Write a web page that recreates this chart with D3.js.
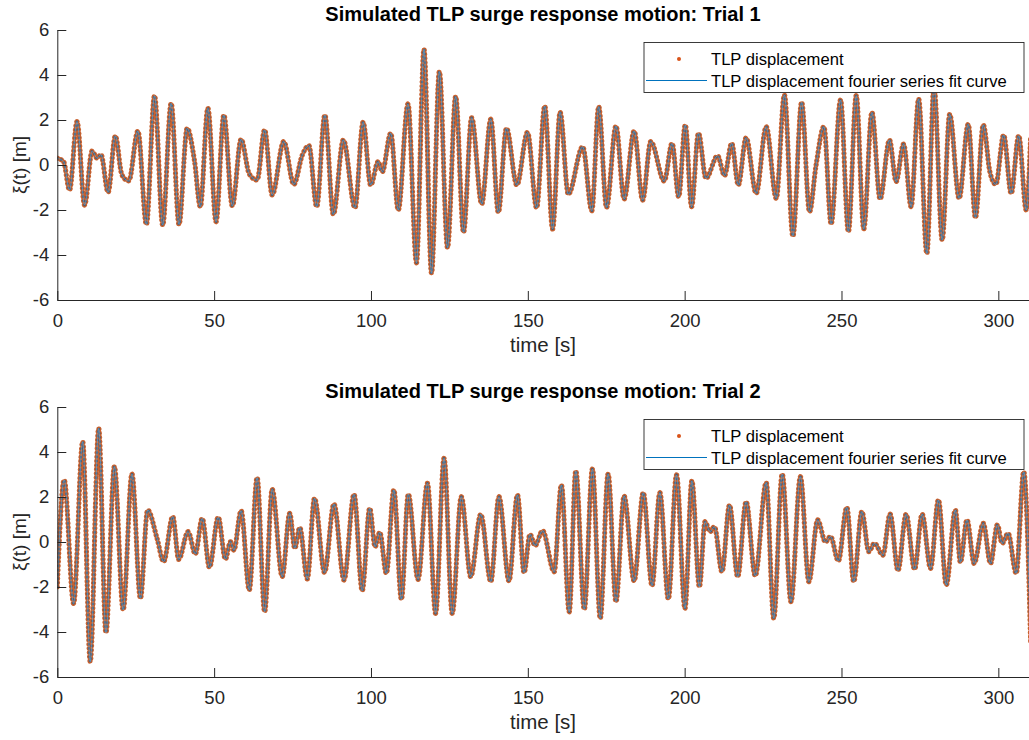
<!DOCTYPE html>
<html><head><meta charset="utf-8">
<script src="https://cdn.jsdelivr.net/npm/d3@7/dist/d3.min.js"></script>
<style>
html,body{margin:0;padding:0;background:#fff;}
svg{display:block;font-family:"Liberation Sans",Arial,Helvetica,sans-serif;}
</style></head>
<body>
<svg id="chart" width="1029" height="740"></svg>
<script>
// ---- data (local peaks / troughs of each record) ----
const trial1Time = [0,2.0,3.9,6.3,8.7,11.1,12.7,13.9,16.2,18.5,20.6,22.8,25.7,28.4,31.0,33.6,36.3,38.8,41.4,43.7,45.6,48.0,50.6,53.1,55.8,58.6,61.2,63.7,66.1,68.5,72.2,75.4,78.1,80.2,82.7,85.3,88.0,91.2,94.9,97.5,99.9,102.3,103.6,106.3,108.7,111.8,114.5,116.9,119.3,121.8,124.4,127.0,129.5,132.1,135.3,138.2,140.6,143.2,146.5,149.9,152.8,155.4,157.9,160.3,162.9,167.5,170.4,172.6,175.1,178.1,180.7,183.9,186.6,189.2,193.5,196.0,198.1,200.2,202.2,204.4,206.8,210.5,212.7,215.0,217.1,219.6,222.8,226.0,229.2,231.8,234.5,237.3,239.8,241.9,244.4,246.7,249.7,252.2,254.7,257.1,259.7,262.3,265.3,267.4,269.8,272.2,274.6,277.2,279.5,282.1,284.5,287.5,290.4,292.7,295.2,297.3,299.2,301.7,304.1,306.5,308.9,310.3];
const trial1Disp = [0.30,0.15,-1.11,1.93,-1.78,0.62,0.30,0.47,-1.21,1.29,-0.44,-0.71,1.51,-2.64,3.08,-2.67,2.74,-2.64,1.63,0.22,-1.85,2.52,-2.52,2.22,-1.82,1.14,-0.40,-0.67,1.56,-1.33,1.04,-0.86,0.44,0.86,-1.85,2.22,-2.19,1.11,-1.90,1.90,-0.89,0.15,-0.30,1.41,-2.00,2.71,-4.34,5.14,-4.81,4.15,-3.67,3.04,-2.99,2.10,-1.73,2.03,-2.10,1.63,-0.89,1.45,-1.90,2.62,-2.84,2.34,-1.30,0.81,-2.03,2.59,-1.88,1.73,-1.51,1.51,-1.56,1.04,-0.71,0.96,-1.41,1.78,-1.85,1.41,-0.59,0.41,-0.47,0.96,-0.89,1.21,-1.26,1.70,-1.48,3.11,-3.16,2.79,-2.07,0.00,1.70,-2.62,2.89,-2.96,3.08,-2.84,2.34,-1.51,1.11,-0.74,0.93,-1.85,2.93,-3.93,3.50,-3.33,2.25,-1.48,1.81,-2.34,1.78,-0.30,-0.86,1.33,-1.26,1.30,-2.00,1.20];

const trial2Time = [0,2.2,5.2,8.1,10.5,13.2,15.5,18.2,21.0,23.8,26.5,28.8,31.8,33.9,36.8,38.7,41.7,44.0,46.2,48.5,51.3,53.6,55.2,56.3,58.6,61.2,63.7,66.1,68.5,71.7,74.1,75.7,77.3,79.7,82.0,85.2,88.2,91.4,94.6,97.2,99.6,101.3,102.8,104.9,107.3,109.7,111.9,115.0,118.0,120.6,123.3,125.9,128.8,131.8,135.0,138.2,140.8,144.0,146.7,148.8,150.7,152.3,154.7,158.4,160.7,163.2,165.3,168.0,170.6,173.1,175.6,178.1,180.7,183.9,186.8,189.6,192.1,194.8,197.4,200.1,202.3,204.7,206.5,208.1,209.5,211.9,214.3,216.9,219.6,222.5,226.0,228.4,231.1,233.9,236.9,239.6,242.4,244.9,246.5,249.0,251.7,253.9,256.5,258.7,260.5,263.2,265.5,268.0,270.6,273.3,275.7,278.4,280.9,283.4,286.3,287.9,290.0,292.3,295.2,297.5,299.7,301.2,303.1,305.7,308.1,310.3];
const trial2Disp = [-2.00,2.76,-2.73,4.46,-5.32,5.05,-4.03,3.35,-3.02,3.02,-2.50,1.42,0.16,-0.87,1.13,-0.77,0.46,-0.53,1.05,-1.13,1.10,-0.76,0.01,-0.36,1.39,-2.13,2.86,-3.10,2.34,-1.54,1.27,-0.28,0.64,-1.64,1.94,-1.35,1.69,-1.69,2.12,-2.16,1.50,-0.21,0.43,-1.39,2.31,-2.55,2.12,-1.66,2.61,-3.17,3.72,-3.17,2.01,-1.54,1.23,-1.76,2.01,-1.73,2.09,-1.36,0.34,-0.16,0.50,-1.32,2.53,-3.10,3.16,-2.99,3.24,-3.39,3.02,-2.65,2.04,-1.73,2.19,-1.94,2.19,-2.53,2.98,-2.95,2.71,-1.99,0.90,0.46,0.68,-1.32,1.64,-1.54,1.79,-1.50,2.64,-3.39,3.02,-2.65,2.90,-1.76,0.98,0.00,0.25,-0.84,1.54,-1.76,1.35,-0.43,-0.06,-0.58,1.24,-1.27,1.23,-1.21,1.24,-1.17,1.87,-1.91,1.42,-0.90,0.98,-0.95,0.83,-0.95,0.76,-0.06,0.39,-1.39,3.12,-4.40];

const xTicks = [0,50,100,150,200,250,300];
const yTicks = [-6,-4,-2,0,2,4,6];
const titles = ["Simulated TLP surge response motion: Trial 1","Simulated TLP surge response motion: Trial 2"];
const legendLabels = ["TLP displacement","TLP displacement fourier series fit curve"];
const xLabel = "time [s]";
const yLabel = "\u03BE(t) [m]";

// ---- drawing ----
const svg = d3.select("#chart");
const axisColor = "#262626";
const panels = [
  {time: trial1Time, disp: trial1Disp, title: titles[0], top: 30},
  {time: trial2Time, disp: trial2Disp, title: titles[1], top: 407}
];
const plotH = 270, left = 57.3, right = 1029.7;
const FONT = '"Liberation Sans",Arial,sans-serif';

panels.forEach((p, i) => {
  const x = d3.scaleLinear().domain([0, 310]).range([left, right]);
  const y = d3.scaleLinear().domain([-6, 6]).range([p.top + plotH, p.top]);
  const g = svg.append("g");
  const pts = p.time.map((t, k) => [t, p.disp[k]]);

  const clipId = "clip" + i;
  svg.append("clipPath").attr("id", clipId).append("rect")
    .attr("x", left).attr("y", p.top).attr("width", right - left + 5).attr("height", plotH);

  const line = d3.line().x(d => x(d[0])).y(d => y(d[1])).curve(d3.curveMonotoneX);
  const data = g.append("g").attr("clip-path", `url(#${clipId})`);
  data.append("path").attr("d", line(pts)).attr("fill", "none")
    .attr("stroke", "#c8612f").attr("stroke-width", 5.2)
    .attr("stroke-dasharray", "0.1,4.1").attr("stroke-linecap", "round");
  data.append("path").attr("d", line(pts)).attr("fill", "none")
    .attr("stroke", "#555a69").attr("stroke-width", 2.6)
    .attr("stroke-dasharray", "0.1,4.1").attr("stroke-linecap", "round");
  data.append("path").attr("d", line(pts)).attr("fill", "none")
    .attr("stroke", "#62aee0").attr("stroke-width", 0.7).attr("stroke-opacity", 0.85);

  // axes
  const xa = g.append("g").attr("transform", `translate(0,${p.top + plotH})`)
    .call(d3.axisBottom(x).tickValues(xTicks).tickFormat(d => String(d))
      .tickSizeInner(-9).tickSizeOuter(0).tickPadding(14));
  const ya = g.append("g").attr("transform", `translate(${left},0)`)
    .call(d3.axisLeft(y).tickValues(yTicks).tickFormat(d => String(d))
      .tickSizeInner(-9).tickSizeOuter(0).tickPadding(8));
  [xa, ya].forEach(a => {
    a.select(".domain").attr("stroke", axisColor);
    a.selectAll(".tick line").attr("stroke", axisColor);
    a.selectAll(".tick text").attr("fill", axisColor).style("font-size", "18.5px")
      .style("font-family", FONT);
  });

  // title & labels
  g.append("text").attr("x", 543).attr("y", p.top - 9).attr("text-anchor", "middle")
    .style("font-size", "20px").style("font-weight", "bold").attr("fill", "#000").text(p.title);
  g.append("text").attr("x", 543).attr("y", p.top + plotH + 52).attr("text-anchor", "middle")
    .style("font-size", "20.5px").attr("fill", axisColor).text(xLabel);
  g.append("text").attr("transform", `translate(26,${p.top + plotH / 2}) rotate(-90)`)
    .attr("text-anchor", "middle").style("font-size", "19px").attr("fill", axisColor).text(yLabel);

  // legend
  const lg = g.append("g").attr("transform", `translate(644,${p.top + 12.5})`);
  lg.append("rect").attr("x", 0).attr("y", 0).attr("width", 380).attr("height", 50)
    .attr("fill", "#fff").attr("stroke", axisColor).attr("stroke-width", 0.9);
  lg.append("circle").attr("cx", 35).attr("cy", 16.5).attr("r", 2).attr("fill", "#d95319");
  lg.append("line").attr("x1", 2).attr("x2", 63).attr("y1", 38).attr("y2", 38)
    .attr("stroke", "#0072bd").attr("stroke-width", 1);
  lg.append("text").attr("x", 67).attr("y", 22).style("font-size", "16.6px").attr("fill", "#000").text(legendLabels[0]);
  lg.append("text").attr("x", 67).attr("y", 44).style("font-size", "16.6px").attr("fill", "#000").text(legendLabels[1]);
});
</script>
</body></html>
